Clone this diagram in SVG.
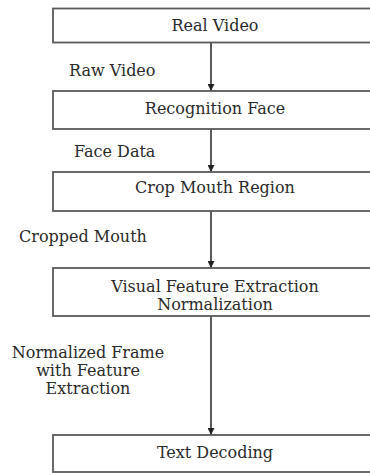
<svg xmlns="http://www.w3.org/2000/svg" width="370" height="473" viewBox="0 0 370 473">
<defs>
<marker id="ah" viewBox="0 0 10 10" refX="10" refY="5" markerWidth="7" markerHeight="7" markerUnits="userSpaceOnUse" orient="auto">
<path d="M0,0 L10,5 L0,10 z" fill="#222"/>
</marker>
<style>
.box{fill:#fff;stroke:#5a5a5a;stroke-width:1.8}
.t{font-family:'DejaVu Serif',serif;font-size:16px;fill:#2a2a2a}
.c{text-anchor:middle}
.edge{stroke:#333;stroke-width:1.6;fill:none;marker-end:url(#ah)}
</style>
</defs>
<rect width="370" height="473" fill="#fff"/>
<g id="connectors">
<line class="edge" x1="211" y1="43" x2="211" y2="91"/>
<line class="edge" x1="211" y1="129" x2="211" y2="172"/>
<line class="edge" x1="211" y1="211" x2="211" y2="268"/>
<line class="edge" x1="211" y1="316" x2="211" y2="435"/>
<text class="t" x="69" y="76">Raw Video</text>
<text class="t" x="74" y="157">Face Data</text>
<text class="t" x="19" y="242">Cropped Mouth</text>
<text class="t c" x="88" y="358">Normalized Frame</text>
<text class="t c" x="88" y="376">with Feature</text>
<text class="t c" x="88" y="394">Extraction</text>
</g>
<g id="real-video">
<rect class="box" x="53" y="8.5" width="320" height="34"/>
<text class="t c" x="215" y="31">Real Video</text>
</g>
<g id="recognition-face">
<rect class="box" x="53" y="91" width="320" height="38"/>
<text class="t c" x="215" y="114">Recognition Face</text>
</g>
<g id="crop-mouth-region">
<rect class="box" x="53" y="172" width="320" height="39"/>
<text class="t c" x="215" y="193">Crop Mouth Region</text>
</g>
<g id="visual-feature-extraction">
<rect class="box" x="53" y="268" width="320" height="48"/>
<text class="t c" x="215" y="292">Visual Feature Extraction</text>
<text class="t c" x="215" y="310">Normalization</text>
</g>
<g id="text-decoding">
<rect class="box" x="53" y="435" width="320" height="37"/>
<text class="t c" x="215" y="458">Text Decoding</text>
</g>
</svg>
